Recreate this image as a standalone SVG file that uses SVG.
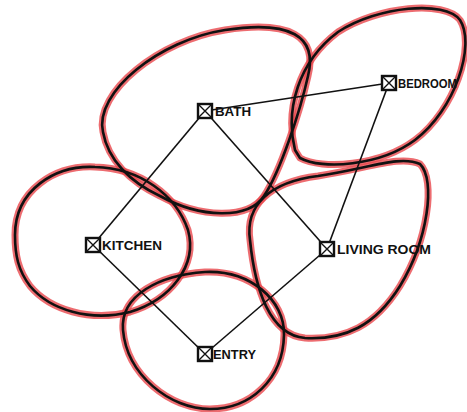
<svg xmlns="http://www.w3.org/2000/svg" width="467" height="412" viewBox="0 0 467 412">
<style>
.halo{fill:none;stroke:#e8474c;stroke-opacity:0.8;stroke-width:7;stroke-linejoin:round}
.blob{fill:none;stroke:#111;stroke-width:2.6;stroke-linejoin:round}
.edge{stroke:#111;stroke-width:1.6;fill:none}
.box{fill:#fff;stroke:#111;stroke-width:2.4}
.x{stroke:#111;stroke-width:1.4}
.lbl{font-family:"Liberation Sans",Arial,sans-serif;font-weight:bold;font-size:12px;fill:#111}
</style>
<defs>
<path id="b1" d="M 103,132 C 94,92 160,40 225,30 C 290,20 318,36 308,76 C 300,112 280,172 264,196 C 248,220 200,218 160,196 C 130,182 108,160 103,132 Z"/>
<path id="b2" d="M 295,150 C 285,110 298,62 338,32 C 378,6 445,0 460,20 C 476,45 455,110 415,140 C 380,166 322,170 300,158 Z"/>
<path id="b3" d="M 15,235 C 15,190 55,165 95,167 C 140,168 176,195 188,230 C 198,266 170,300 130,312 C 90,322 50,310 30,286 C 18,270 15,255 15,235 Z"/>
<path id="b4" d="M 250,240 C 245,205 270,182 318,176 C 370,168 400,155 420,164 C 436,180 428,240 400,286 C 375,326 345,340 305,338 C 270,335 255,290 250,240 Z"/>
<path id="b5" d="M 123,330 C 120,295 160,275 205,272 C 250,270 285,300 284,335 C 283,380 250,409 210,409 C 170,409 127,375 123,330 Z"/>
<g id="nodebox">
<rect class="box" x="-7" y="-7" width="14" height="14"/>
<path class="x" d="M -6,-6 L 6,6 M 6,-6 L -6,6"/>
</g>
</defs>
<g id="zones">
<use href="#b1" class="halo"/><use href="#b2" class="halo"/><use href="#b3" class="halo"/><use href="#b4" class="halo"/><use href="#b5" class="halo"/>
<use href="#b1" class="blob"/><use href="#b2" class="blob"/><use href="#b3" class="blob"/><use href="#b4" class="blob"/><use href="#b5" class="blob"/>
</g>
<g id="connectors">
<line class="edge" x1="205" y1="111" x2="389" y2="83"/>
<line class="edge" x1="205" y1="111" x2="93" y2="245"/>
<line class="edge" x1="205" y1="111" x2="327" y2="249"/>
<line class="edge" x1="389" y1="83" x2="327" y2="249"/>
<line class="edge" x1="93" y1="245" x2="205" y2="354"/>
<line class="edge" x1="327" y1="249" x2="205" y2="354"/>
</g>
<g id="bath"><use href="#nodebox" x="205" y="111"/><text class="lbl" x="215" y="116" textLength="36" lengthAdjust="spacingAndGlyphs">BATH</text></g>
<g id="bedroom"><use href="#nodebox" x="389" y="83"/><text class="lbl" x="398" y="88" textLength="59" lengthAdjust="spacingAndGlyphs">BEDROOM</text></g>
<g id="kitchen"><use href="#nodebox" x="93" y="245"/><text class="lbl" x="102" y="250" textLength="60" lengthAdjust="spacingAndGlyphs">KITCHEN</text></g>
<g id="living"><use href="#nodebox" x="327" y="249"/><text class="lbl" x="337" y="254" textLength="94" lengthAdjust="spacingAndGlyphs">LIVING ROOM</text></g>
<g id="entry"><use href="#nodebox" x="205" y="354"/><text class="lbl" x="213" y="359" textLength="43" lengthAdjust="spacingAndGlyphs">ENTRY</text></g>
</svg>
